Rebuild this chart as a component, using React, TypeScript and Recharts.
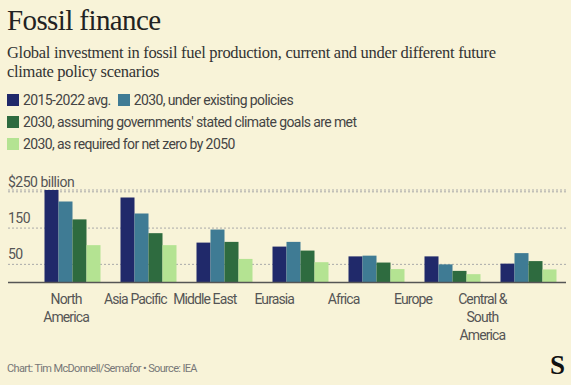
import React from "react";
import { BarChart, Bar, XAxis, YAxis, CartesianGrid, Legend } from "recharts";

const categories = ["North America", "Asia Pacific", "Middle East", "Eurasia", "Africa", "Europe", "Central & South America"];
const tickLines: string[][] = [["North", "America"], ["Asia Pacific"], ["Middle East"], ["Eurasia"], ["Africa"], ["Europe"], ["Central &", "South", "America"]];
const avg2015_2022 = [255, 234, 110, 99, 72, 72, 52];
const existingPolicies = [223, 190, 146, 112, 74, 50, 81];
const statedGoals = [174, 136, 112, 88, 55, 32, 59];
const netZero = [103, 103, 65, 56, 37, 23, 36];
const seriesNames = ["2015-2022 avg.", "2030, under existing policies", "2030, assuming governments' stated climate goals are met", "2030, as required for net zero by 2050"];
const seriesKeys = ["avg", "existing", "stated", "netzero"];
const colors = ["#20296a", "#3f7b94", "#2e6b3f", "#b4e392"];
const yTicks = [50, 150, 250];
const yTickLabels: Record<number, string> = { 50: "50", 150: "150", 250: "$250 billion" };

const data = categories.map((c, i) => ({
  name: c,
  avg: avg2015_2022[i],
  existing: existingPolicies[i],
  stated: statedGoals[i],
  netzero: netZero[i],
}));

const SANS = "Roboto, 'Noto Sans', sans-serif";
const SERIF = "'Liberation Serif', 'DejaVu Serif', serif";

const YTick = (props: any) => {
  const { y, payload } = props;
  return (
    <text x={8} y={y - 5} fill="#555" fontFamily={SANS} fontSize={14} letterSpacing={-0.5} textAnchor="start">
      {yTickLabels[payload.value]}
    </text>
  );
};

// In the reference the category labels sit on a slightly tighter pitch than the bar groups
const XTick = (props: any) => {
  const { x, y, index } = props;
  const lines = tickLines[index] || [];
  const lx = 66.5 + (x - 72.5) * 0.913;
  return (
    <text x={lx} y={y + 13} fill="#555" fontFamily={SANS} fontSize={14} letterSpacing={-0.9} textAnchor="middle">
      {lines.map((l, i) => (
        <tspan key={i} x={lx} dy={i === 0 ? 0 : 18}>
          {l}
        </tspan>
      ))}
    </text>
  );
};

const LegendContent = () => (
  <div style={{ display: "flex", flexWrap: "wrap", width: 430, rowGap: 5, columnGap: 7 }}>
    {seriesNames.map((n, i) => (
      <div key={i} style={{ display: "flex", alignItems: "center", height: 17 }}>
        <span style={{ display: "inline-block", width: 12, height: 12, background: colors[i], marginRight: 4 }} />
        <span style={{ fontFamily: SANS, fontSize: 14, letterSpacing: -0.6, color: "#444", whiteSpace: "nowrap" }}>{n}</span>
      </div>
    ))}
  </div>
);

export default function App() {
  return (
    <div style={{ position: "absolute", left: 0, top: 0, width: 571, height: 385, background: "#f8f3d8", overflow: "hidden" }}>
      <div style={{ position: "absolute", left: 7, top: 4, fontFamily: SERIF, fontSize: 29, color: "#222", letterSpacing: -0.6, whiteSpace: "nowrap" }}>
        Fossil finance
      </div>
      <div style={{ position: "absolute", left: 7, top: 43, width: 530, fontFamily: SERIF, fontSize: 16.5, letterSpacing: -0.3, lineHeight: "19px", color: "#333" }}>
        Global investment in fossil fuel production, current and under different future climate policy scenarios
      </div>
      <div style={{ position: "absolute", left: 0, top: 0 }}>
        <BarChart width={571} height={385} data={data} margin={{ top: 190, right: 5, bottom: 72.5, left: 0 }} barCategoryGap={10.5} barGap={0}>
          <CartesianGrid vertical={false} stroke="#aaa" strokeDasharray="2 2" />
          <YAxis width={8} domain={[0, 250]} ticks={yTicks} axisLine={false} tickLine={false} tick={<YTick />} interval={0} />
          <XAxis dataKey="name" height={30} axisLine={{ stroke: "#555", strokeWidth: 1.5 }} tickLine={false} tick={<XTick />} interval={0} padding={{ left: 26, right: 0 }} />
          <Legend layout="horizontal" verticalAlign="middle" align="center" content={<LegendContent />} wrapperStyle={{ top: 91, left: 7, width: 430 }} />
          {seriesKeys.map((k, i) => (
            <Bar key={k} dataKey={k} name={seriesNames[i]} fill={colors[i]} isAnimationActive={false} />
          ))}
        </BarChart>
      </div>
      <div style={{ position: "absolute", left: 7, top: 362, fontFamily: SANS, fontSize: 11, color: "#777", letterSpacing: -0.65, whiteSpace: "nowrap" }}>
        Chart: Tim McDonnell/Semafor • Source: IEA
      </div>
      <div style={{ position: "absolute", left: 550, top: 350, fontFamily: SERIF, fontSize: 27, fontWeight: 900, color: "#111" }}>
        S
      </div>
    </div>
  );
}
